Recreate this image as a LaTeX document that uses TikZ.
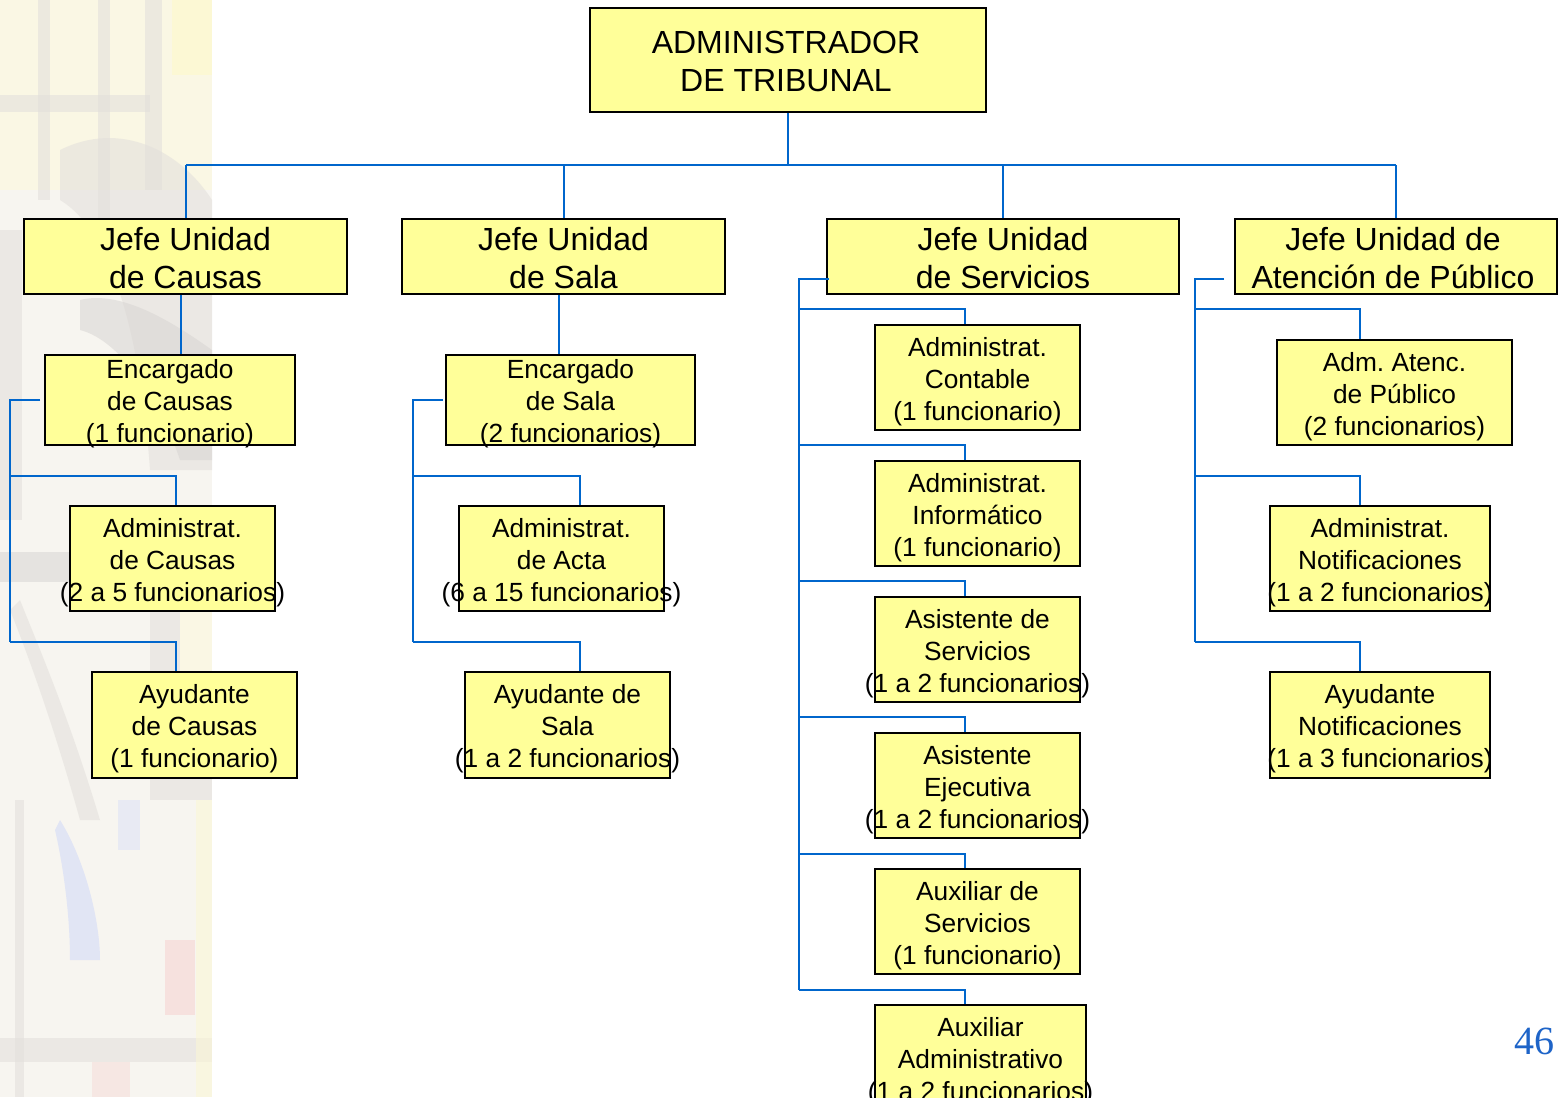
\documentclass[tikz,border=0pt]{standalone}
\usepackage{fontspec}
\setmainfont{Liberation Sans}
\newfontfamily\numfont{Liberation Serif}
\frenchspacing
\definecolor{boxyellow}{RGB}{255,255,153}
\definecolor{linkblue}{RGB}{0,102,204}
\definecolor{pageblue}{RGB}{30,100,200}
\definecolor{glassbase}{RGB}{247,245,240}
\definecolor{glasscream}{RGB}{250,247,228}
\definecolor{glassyellow}{RGB}{252,248,212}
\definecolor{glassgrey}{RGB}{226,223,219}
\definecolor{glassdark}{RGB}{216,213,211}
\definecolor{glassblue}{RGB}{220,225,246}
\definecolor{glasspink}{RGB}{246,220,218}
\tikzset{
  box/.style={rectangle, draw=black, line width=2pt, fill=boxyellow, inner sep=0pt},
  big/.style={font=\fontsize{32}{38}\selectfont, align=center, inner sep=0pt},
  small/.style={font=\fontsize{26.3}{32}\selectfont, align=center, inner sep=0pt},
  conn/.style={draw=linkblue, line width=2pt},
  pane/.style={opacity=.55},
}
\begin{document}
\begin{tikzpicture}[x=1pt,y=-1pt]
\useasboundingbox (0,0) rectangle (1562,1097);
\fill[white] (0,0) rectangle (1562,1097);

% faded stained-glass strip on the left edge
\begin{scope}
  \clip (0,0) rectangle (212,1097);
  \fill[glassbase] (0,0) rectangle (212,1097);
  \fill[glasscream] (0,0) rectangle (212,190);
  \fill[glassyellow] (172,0) rectangle (212,75);
  \fill[glassgrey, pane] (38,0) rectangle (50,200);
  \fill[glassgrey, pane] (98,0) rectangle (110,230);
  \fill[glassgrey, pane] (145,0) rectangle (162,190);
  \fill[glassgrey, pane] (0,95) rectangle (150,112);
  \fill[glassgrey, pane] (60,150) .. controls (120,120) and (180,150) .. (212,200) -- (212,470) -- (150,470) .. controls (140,330) and (110,230) .. (60,200) -- cycle;
  \fill[glassdark, pane] (80,300) .. controls (120,290) and (170,320) .. (212,350) -- (212,460) -- (180,460) .. controls (160,400) and (120,340) .. (80,330) -- cycle;
  \fill[glassgrey, pane] (0,230) rectangle (22,520);
  \fill[glassdark, pane] (0,552) rectangle (212,582);
  \fill[glassgrey, pane] (150,582) rectangle (212,800);
  \fill[glassgrey, pane] (20,600) .. controls (40,650) and (70,720) .. (100,820) -- (80,820) .. controls (55,730) and (30,660) .. (10,610) -- cycle;
  \fill[glasscream] (180,580) rectangle (212,700);
  \fill[glassblue, opacity=.8] (60,820) .. controls (85,860) and (100,920) .. (100,960) -- (70,960) .. controls (70,910) and (62,860) .. (55,830) -- cycle;
  \fill[glassblue, pane] (118,800) rectangle (140,850);
  \fill[glasspink, opacity=.8] (165,940) rectangle (195,1015);
  \fill[glassgrey, pane] (0,1038) rectangle (212,1062);
  \fill[glasspink, pane] (92,1062) rectangle (130,1097);
  \fill[glassgrey, pane] (15,800) rectangle (24,1097);
  \fill[glassyellow, pane] (196,800) rectangle (212,1097);
\end{scope}

% top box
\node[box, minimum width=396pt, minimum height=104pt] (adm) at (788,60) {};
\node[big] (admt) at ([yshift=-1.5pt,xshift=-2pt]adm.center) {ADMINISTRADOR\\DE TRIBUNAL};

% unit heads
\node[box, minimum width=323pt, minimum height=75pt] (j1) at (185.5,256.5) {};
\node[box, minimum width=323pt, minimum height=75pt] (j2) at (563.5,256.5) {};
\node[box, minimum width=352pt, minimum height=75pt] (j3) at (1003,256.5) {};
\node[box, minimum width=322pt, minimum height=75pt] (j4) at (1396,256.5) {};
\node[big] (j1t) at ([yshift=-1.5pt]j1.center) {Jefe Unidad\\de Causas};
\node[big] (j2t) at ([yshift=-1.5pt]j2.center) {Jefe Unidad\\de Sala};
\node[big] (j3t) at ([yshift=-1.5pt]j3.center) {Jefe Unidad\\de Servicios};
\node[big] (j4t) at ([yshift=-1.5pt,xshift=-3pt]j4.center) {Jefe Unidad de\\Atención de Público};

% Causas
\node[box, minimum width=250pt, minimum height=90pt] (e1) at (170,400) {};
\node[box, minimum width=205pt, minimum height=105pt] (a1) at (172.5,558.5) {};
\node[box, minimum width=205pt, minimum height=106pt] (y1) at (194.5,725) {};
\node[small] (e1t) at ([yshift=-4pt]e1.center) {Encargado\\de Causas\\(1 funcionario)};
\node[small] (a1t) at ([yshift=-4pt]a1.center) {Administrat.\\de Causas\\(2 a 5 funcionarios)};
\node[small] (y1t) at ([yshift=-4pt]y1.center) {Ayudante\\de Causas\\(1 funcionario)};

% Sala
\node[box, minimum width=249pt, minimum height=90pt] (e2) at (570.5,400) {};
\node[box, minimum width=205pt, minimum height=105pt] (a2) at (561.5,558.5) {};
\node[box, minimum width=205pt, minimum height=106pt] (y2) at (567.5,725) {};
\node[small] (e2t) at ([yshift=-4pt]e2.center) {Encargado\\de Sala\\(2 funcionarios)};
\node[small] (a2t) at ([yshift=-4pt]a2.center) {Administrat.\\de Acta\\(6 a 15 funcionarios)};
\node[small] (y2t) at ([yshift=-4pt]y2.center) {Ayudante de\\Sala\\(1 a 2 funcionarios)};

% Servicios
\node[box, minimum width=205pt, minimum height=105pt] (s1) at (977.5,377.5) {};
\node[box, minimum width=205pt, minimum height=105pt] (s2) at (977.5,513.5) {};
\node[box, minimum width=205pt, minimum height=105pt] (s3) at (977.5,649.5) {};
\node[box, minimum width=205pt, minimum height=105pt] (s4) at (977.5,785.5) {};
\node[box, minimum width=205pt, minimum height=105pt] (s5) at (977.5,921.5) {};
\node[box, minimum width=211pt, minimum height=105pt] (s6) at (980.5,1057.5) {};
\node[small] (s1t) at ([yshift=-4pt]s1.center) {Administrat.\\Contable\\(1 funcionario)};
\node[small] (s2t) at ([yshift=-4pt]s2.center) {Administrat.\\Informático\\(1 funcionario)};
\node[small] (s3t) at ([yshift=-4pt]s3.center) {Asistente de\\Servicios\\(1 a 2 funcionarios)};
\node[small] (s4t) at ([yshift=-4pt]s4.center) {Asistente\\Ejecutiva\\(1 a 2 funcionarios)};
\node[small] (s5t) at ([yshift=-4pt]s5.center) {Auxiliar de\\Servicios\\(1 funcionario)};
\node[small] (s6t) at ([yshift=-4pt]s6.center) {Auxiliar\\Administrativo\\(1 a 2 funcionarios)};

% Atención de Público
\node[box, minimum width=235pt, minimum height=105pt] (p1) at (1394.5,392.5) {};
\node[box, minimum width=220pt, minimum height=105pt] (p2) at (1380,558.5) {};
\node[box, minimum width=220pt, minimum height=106pt] (p3) at (1380,725) {};
\node[small] (p1t) at ([yshift=-4pt]p1.center) {Adm. Atenc.\\de Público\\(2 funcionarios)};
\node[small] (p2t) at ([yshift=-4pt]p2.center) {Administrat.\\Notificaciones\\(1 a 2 funcionarios)};
\node[small] (p3t) at ([yshift=-4pt]p3.center) {Ayudante\\Notificaciones\\(1 a 3 funcionarios)};

% page number
\node[font=\numfont\fontsize{40}{44}\selectfont, text=pageblue, inner sep=0pt] (pg) at (1534,1041) {46};

% connector points
\coordinate (busL) at (186,165);
\coordinate (busR) at (1396,165);
\coordinate (c1a) at (10,400);
\coordinate (c1b) at (10,476);
\coordinate (c1c) at (10,642);
\coordinate (c2a) at (413,400);
\coordinate (c2b) at (413,476);
\coordinate (c2c) at (413,642);
\coordinate (c3a) at (799,279);
\coordinate (c3b) at (799,309);
\coordinate (c3c) at (799,445);
\coordinate (c3d) at (799,581);
\coordinate (c3e) at (799,717);
\coordinate (c3f) at (799,854);
\coordinate (c3g) at (799,990);
\coordinate (c4a) at (1195,279);
\coordinate (c4b) at (1195,309);
\coordinate (c4c) at (1195,476);
\coordinate (c4d) at (1195,642);

% top level
\draw[conn] (adm.south) -- (adm.south |- busL);
\draw[conn] (busL) -- (busR);
\draw[conn] (j1.north) -- (j1.north |- busL);
\draw[conn] (j2.north) -- (j2.north |- busL);
\draw[conn] (j3.north) -- (j3.north |- busL);
\draw[conn] (j4.north) -- (j4.north |- busL);

% Causas branch
\draw[conn] ([xshift=-4.5pt]j1.south) -- ([xshift=-4.5pt]j1.south |- e1.north);
\draw[conn] ([xshift=-4pt]e1.west) -- (c1a) -- (c1c);
\draw[conn] (c1b) -| ([xshift=3.5pt]a1.north);
\draw[conn] (c1c) -| ([xshift=-18.5pt]y1.north);

% Sala branch
\draw[conn] ([xshift=-4.5pt]j2.south) -- ([xshift=-4.5pt]j2.south |- e2.north);
\draw[conn] ([xshift=-2pt]e2.west) -- (c2a) -- (c2c);
\draw[conn] (c2b) -| ([xshift=18.5pt]a2.north);
\draw[conn] (c2c) -| ([xshift=12.5pt]y2.north);

% Servicios branch
\draw[conn] ([xshift=3pt]j3.west |- c3a) -- (c3a) -- (c3g);
\draw[conn] (c3b) -| ([xshift=-12.5pt]s1.north);
\draw[conn] (c3c) -| ([xshift=-12.5pt]s2.north);
\draw[conn] (c3d) -| ([xshift=-12.5pt]s3.north);
\draw[conn] (c3e) -| ([xshift=-12.5pt]s4.north);
\draw[conn] (c3f) -| ([xshift=-12.5pt]s5.north);
\draw[conn] (c3g) -| ([xshift=-15.5pt]s6.north);

% Atención de Público branch
\draw[conn] ([xshift=-10pt]j4.west |- c4a) -- (c4a) -- (c4d);
\draw[conn] (c4b) -| ([xshift=-34.5pt]p1.north);
\draw[conn] (c4c) -| ([xshift=-20pt]p2.north);
\draw[conn] (c4d) -| ([xshift=-20pt]p3.north);
\end{tikzpicture}
\end{document}
